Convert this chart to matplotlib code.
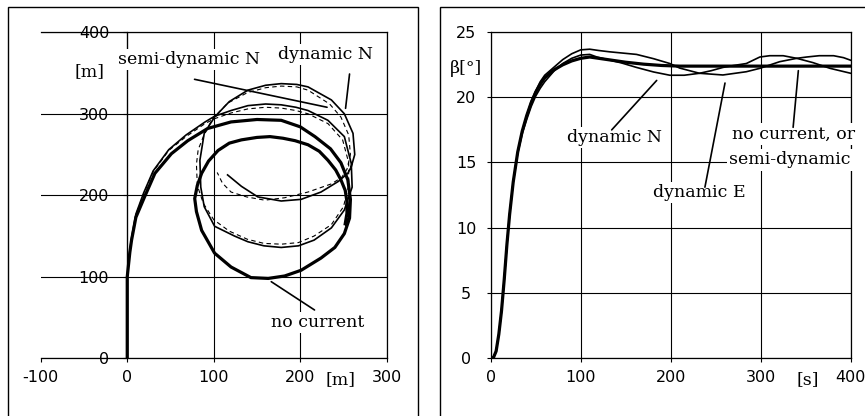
"""
Turning trajectories and drift angle for the current models (two panels).
"""
import matplotlib
matplotlib.use("Agg")
import matplotlib.pyplot as plt
from matplotlib.patches import Rectangle

plt.rcParams["axes.unicode_minus"] = False

# ---- left panel: trajectories [m] ----
NOCUR_X = [0, 0, 1, 3, 5, 10, 20, 32, 51, 70, 93, 120, 150, 178, 200, 217, 235,
           247, 255, 258, 257, 251, 240, 224, 201, 182, 163, 143, 120, 101, 86,
           80, 78, 81, 86, 94, 105, 118, 132, 150, 165, 180, 194, 209, 222, 232,
           241, 247, 252, 254, 254, 252]
NOCUR_Y = [0, 100, 110, 130, 145, 173, 198, 227, 251, 267, 282, 290, 293, 292,
           284, 272, 257, 240, 219, 195, 172, 153, 136, 123, 108, 101, 98, 99,
           112, 129, 157, 180, 196, 212, 227, 242, 255, 264, 268, 271, 272, 270,
           267, 262, 254, 243, 231, 219, 206, 192, 178, 165]

DYN_N_X = [0, 0, 1, 3, 5, 10, 19, 30, 48, 68, 90, 101, 120, 139.5, 160, 178,
           195, 209, 232, 251, 259, 260, 251, 236, 216, 198, 178, 158, 139.5,
           124, 101, 89, 85, 84, 89, 101, 118, 139.5, 160, 178, 196, 209, 236,
           251, 261, 263, 259, 255, 244, 224, 201, 178, 151, 132, 116]
DYN_N_Y = [0, 100, 112, 132, 148, 177, 203, 230, 256, 274, 290, 297, 304, 310,
           312, 311, 308, 304, 292, 272, 239, 210, 182, 160, 145, 138, 136, 138,
           143, 150, 162, 186, 210, 243, 276, 296, 315, 329, 335, 337, 336, 333,
           317, 300, 276, 250, 235, 227, 217, 204, 195, 193, 198, 211, 225]

SEMI_N_X = [0, 0, 1, 3, 5, 10, 19, 30, 48, 68, 90, 101, 120, 139.5, 160, 178,
            195, 209, 232, 249, 256, 256, 250, 236, 216, 198, 178, 158, 139,
            118, 100, 88, 81, 80, 82, 88, 98, 116, 139, 160, 178, 196, 209, 234,
            247, 256, 258, 254, 248, 236, 209, 182, 159, 138, 120, 110, 104]
SEMI_N_Y = [0, 100, 112, 131, 147, 176, 202, 229, 255, 272, 288, 294, 301, 306,
            308, 307, 304, 300, 288, 268, 240, 212, 186, 164, 150, 142, 140, 141,
            146, 156, 170, 190, 212, 238, 256, 272, 293, 313, 326, 332, 334, 333,
            329, 312, 296, 274, 250, 232, 222, 214, 204, 197, 194, 198, 204, 215,
            228]

XY_XTICKS = [-100, 0, 100, 200, 300]
XY_YTICKS = [0, 100, 200, 300, 400]

# ---- right panel: drift angle beta [deg] vs time [s] ----
T_NOCUR = [0, 3, 6, 9, 12, 15, 18, 21, 25, 30, 35, 40, 45, 50, 55, 60, 70, 80,
           90, 100, 110, 120, 135, 150, 170, 190, 210, 250, 300, 350, 400]
B_NOCUR = [0, 0, 0.5, 1.8, 3.6, 6.0, 8.7, 11.0, 13.5, 15.8, 17.4, 18.6, 19.6,
           20.4, 21.0, 21.5, 22.1, 22.5, 22.8, 23.0, 23.1, 23.0, 22.85, 22.7,
           22.55, 22.45, 22.4, 22.4, 22.4, 22.4, 22.4]

T_DYN_N = [0, 3, 6, 9, 12, 15, 18, 21, 25, 30, 35, 40, 45, 50, 55, 60, 70, 80,
           90, 100, 110, 118, 130, 145, 162, 181, 199, 215, 232, 245, 258, 270,
           284, 299, 310, 325, 340, 351, 365, 381, 392, 400]
B_DYN_N = [0, 0, 0.5, 1.8, 3.6, 6.0, 8.7, 11.0, 13.5, 15.7, 17.2, 18.3, 19.3,
           20.1, 20.7, 21.2, 22.0, 22.6, 23.0, 23.25, 23.3, 23.1, 22.9, 22.65,
           22.3, 21.95, 21.7, 21.7, 21.85, 22.05, 22.3, 22.45, 22.6, 23.1, 23.2,
           23.2, 23.0, 23.1, 23.2, 23.2, 23.05, 22.85]

T_DYN_E = [0, 3, 6, 9, 12, 15, 18, 21, 25, 30, 35, 40, 45, 50, 55, 60, 70, 80,
           90, 100, 110, 120, 132, 147, 162, 181, 199, 210, 232, 258, 284, 299,
           321, 340, 358, 377, 400]
B_DYN_E = [0, 0, 0.5, 1.8, 3.6, 6.0, 8.7, 11.0, 13.5, 15.8, 17.4, 18.6, 19.7,
           20.5, 21.2, 21.7, 22.3, 22.9, 23.35, 23.65, 23.7, 23.6, 23.5, 23.4,
           23.3, 22.97, 22.6, 22.25, 21.85, 21.72, 21.97, 22.23, 22.74, 23.0,
           22.67, 22.23, 21.85]

TB_XTICKS = [0, 100, 200, 300, 400]
TB_YTICKS = [0, 5, 10, 15, 20, 25]

SANS = "DejaVu Sans"
SERIF = "DejaVu Serif"
TICK_FS = 11.5
LABEL_FS = 12.5
BOX = dict(facecolor="white", edgecolor="none", pad=1.5)


def style_axes(ax):
    ax.tick_params(direction="out", length=3, width=0.8, colors="black",
                   labelsize=TICK_FS)
    for lbl in ax.get_xticklabels() + ax.get_yticklabels():
        lbl.set_fontfamily(SANS)
    ax.grid(True, color="black", lw=0.8, zorder=0)
    ax.set_axisbelow(True)
    for sp in ax.spines.values():
        sp.set_linewidth(0.9)


def leader(ax, p0, p1):
    ax.annotate("", xy=p1, xytext=p0,
                arrowprops=dict(arrowstyle="-", lw=1.2, color="black",
                                shrinkA=0, shrinkB=0), zorder=6)


def label(ax, x, y, s, **kw):
    ax.text(x, y, s, fontsize=LABEL_FS, family=SERIF, ha="center",
            va="center", bbox=BOX, zorder=5, clip_on=False, **kw)


def main():
    fig = plt.figure(figsize=(8.65, 4.16), dpi=100)

    # frames around each panel
    fig.add_artist(Rectangle((0.0093, -0.05), 0.474, 1.032, fill=False,
                             lw=1.0, ec="black", transform=fig.transFigure))
    fig.add_artist(Rectangle((0.5087, -0.05), 0.6, 1.032, fill=False,
                             lw=1.0, ec="black", transform=fig.transFigure))

    # ---------------- left: trajectories ----------------
    ax = fig.add_axes([0.0471, 0.1387, 0.4, 0.7837])
    ax.plot(SEMI_N_X, SEMI_N_Y, color="black", lw=0.8, ls=(0, (4, 3)),
            zorder=3)
    ax.plot(DYN_N_X, DYN_N_Y, color="black", lw=1.2, zorder=3)
    ax.plot(NOCUR_X, NOCUR_Y, color="black", lw=2.3, zorder=4)
    ax.set_xlim(-100, 300)
    ax.set_ylim(0, 400)
    ax.set_xticks(XY_XTICKS)
    ax.set_yticks(XY_YTICKS)
    ax.spines["left"].set_position(("data", 0))
    style_axes(ax)
    ax.get_xgridlines()[0].set_visible(False)
    ax.tick_params(axis="x", pad=5.5)
    ax.tick_params(axis="y", pad=10)

    label(ax, -43.6, 352, "[m]")
    label(ax, 247, -26.6, "[m]")
    label(ax, 71.5, 367, "semi-dynamic N")
    label(ax, 229, 373, "dynamic N")
    label(ax, 220, 44, "no current")
    leader(ax, (77.8, 342.3), (231, 308))
    leader(ax, (257, 348.8), (252.4, 306.7))
    leader(ax, (166.5, 94), (216.5, 59.3))

    # ---------------- right: drift angle ----------------
    bx = fig.add_axes([0.5673, 0.1401, 0.4162, 0.7823])
    bx.plot(T_DYN_E, B_DYN_E, color="black", lw=1.2, zorder=3)
    bx.plot(T_DYN_N, B_DYN_N, color="black", lw=1.2, zorder=3)
    bx.plot(T_NOCUR, B_NOCUR, color="black", lw=2.3, zorder=4)
    bx.set_xlim(0, 400)
    bx.set_ylim(0, 25)
    bx.set_xticks(TB_XTICKS)
    bx.set_yticks(TB_YTICKS)
    style_axes(bx)
    bx.tick_params(axis="x", pad=5.5)
    bx.tick_params(axis="y", pad=14.8)
    for lbl in bx.get_yticklabels():
        lbl.set_horizontalalignment("center")

    label(bx, -28.0, 22.2, "β[°]")
    label(bx, 352, -1.71, "[s]")
    label(bx, 138, 16.93, "dynamic N")
    label(bx, 231.3, 12.7, "dynamic E")
    label(bx, 337, 17.19, "no current, or")
    label(bx, 332.6, 15.19, "semi-dynamic")
    leader(bx, (134.4, 17.5), (184.4, 21.3))
    leader(bx, (238, 13.1), (260.3, 21.1))
    leader(bx, (336, 17.7), (341.8, 22.05))

    fig.savefig("out.png", dpi=100, facecolor="white")
    plt.close(fig)


if __name__ == "__main__":
    main()
